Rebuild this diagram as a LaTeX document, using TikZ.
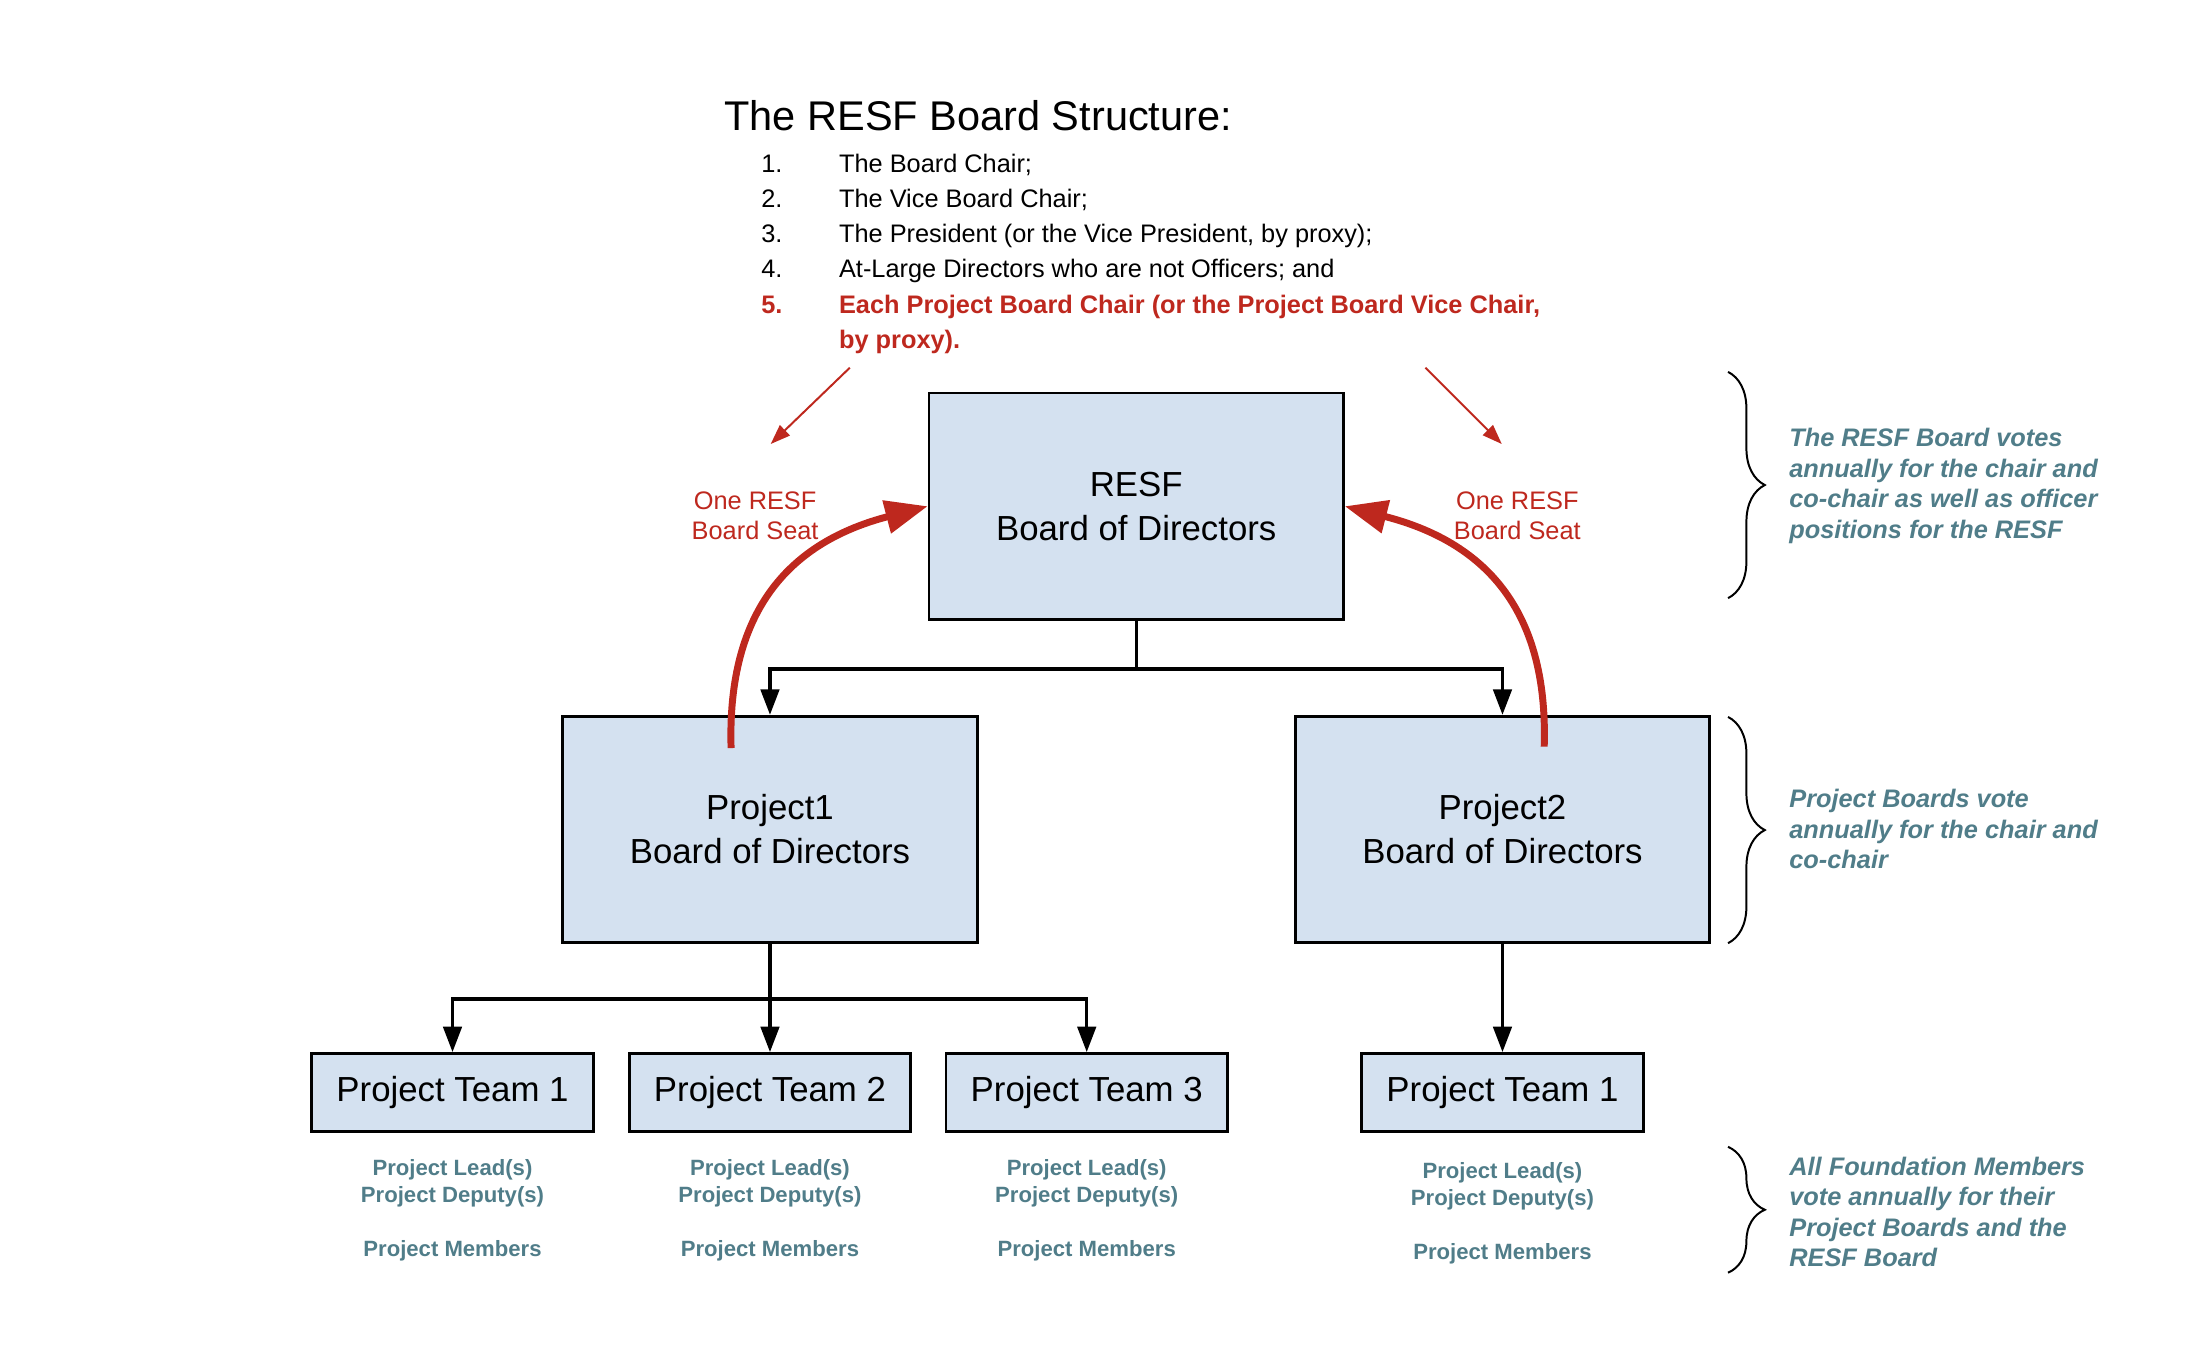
\documentclass[tikz,border=0pt]{standalone}
\usepackage{fontspec}
\setmainfont{Liberation Sans}
\usetikzlibrary{arrows.meta,decorations.pathreplacing}
\definecolor{boardfill}{RGB}{212,225,240}
\definecolor{seatred}{RGB}{190,40,30}
\definecolor{voteteal}{RGB}{80,125,137}

\begin{document}
\begin{tikzpicture}[x=0.2mm,y=-0.2mm,
    board/.style={draw,line width=1.1pt,fill=boardfill,minimum width=58.6mm,minimum height=32mm,align=center,inner sep=0pt,font=\fontsize{14}{17.6}\selectfont},
    team/.style={draw,line width=1.1pt,fill=boardfill,minimum width=39.8mm,minimum height=11mm,inner sep=0pt,font=\fontsize{14}{17}\selectfont},
    members/.style={text=voteteal,align=center,font=\fontsize{8.9}{10.8}\selectfont\bfseries},
    vote/.style={text=voteteal,align=left,anchor=west,inner sep=0pt,font=\fontsize{10.2}{12.3}\selectfont\bfseries\itshape},
    seat/.style={text=seatred,align=center,font=\fontsize{10.2}{12.2}\selectfont},
    listtext/.style={anchor=base west,inner sep=0pt,font=\fontsize{10.2}{12}\selectfont},
    tree/.style={line width=1.4pt,-{Triangle[length=3.6mm,width=2.6mm]}},
    redarc/.style={seatred,line width=2.8pt,-{Triangle[length=6mm,width=4.6mm]}},
    redline/.style={seatred,line width=0.8pt,-{Triangle[length=2.8mm,width=2mm]}},
    curly/.style={decorate,decoration={brace,amplitude=5.2mm},line width=0.8pt}]
  \useasboundingbox (0,0) rectangle (1560,963);

  \node[anchor=base west,inner sep=0pt,font=\fontsize{16.7}{20}\selectfont] (title) at (512,92) {The RESF Board Structure:};
  \foreach \n/\txt [count=\i from 0] in {1/The Board Chair;,2/The Vice Board Chair;,3/{The President (or the Vice President, by proxy);},4/At-Large Directors who are not Officers; and}
    {
      \node[listtext] (num\n) at (538,{122+24.8*\i}) {\n.};
      \node[listtext] (item\n) at (593,{122+24.8*\i}) {\txt};
    }
  \node[listtext,text=seatred,font=\fontsize{10.2}{12}\selectfont\bfseries] (num5) at (538,221.5) {5.};
  \node[listtext,text=seatred,font=\fontsize{10.2}{12}\selectfont\bfseries] (item5) at (593,221.5) {Each Project Board Chair (or the Project Board Vice Chair,};
  \node[listtext,text=seatred,font=\fontsize{10.2}{12}\selectfont\bfseries] (item5b) at (593,246.3) {by proxy).};

  \node[board] (resf) at (803.5,358) {RESF\\Board of Directors};
  \node[board] (p1) at (544.5,586.5) {Project1\\Board of Directors};
  \node[board] (p2) at (1062.5,586.5) {Project2\\Board of Directors};

  \node[team] (t1) at (320,772.5) {Project Team 1};
  \node[team] (t2) at (544.5,772.5) {Project Team 2};
  \node[team] (t3) at (768.5,772.5) {Project Team 3};
  \node[team] (t4) at (1062.5,772.5) {Project Team 1};

  \foreach \t/\x/\y in {t1/320/856,t2/544.5/856,t3/768.5/856,t4/1062.5/858}
    \node[members] (m\t) at (\x,\y) {Project Lead(s)\\Project Deputy(s)\\[10.8pt]Project Members};

  \draw[tree] (resf.south) -- ++(0,34) coordinate (fork) -| (p1.north);
  \draw[tree] (fork) -| (p2.north);
  \draw[tree] (p1.south) -- ++(0,39) coordinate (fork1) -| (t1.north);
  \draw[tree] (fork1) -| (t3.north);
  \draw[tree] (p1.south) -- (t2.north);
  \draw[tree] (p2.south) -- (t4.north);

  \node[seat] (seatL) at (534,364.5) {One RESF\\Board Seat};
  \node[seat] (seatR) at (1073,364.5) {One RESF\\Board Seat};
  \coordinate (fromL) at (601,260);
  \coordinate (toL) at (545,314);
  \coordinate (fromR) at (1008,260);
  \coordinate (toR) at (1062,314);
  \draw[redline] (fromL) -- (toL);
  \draw[redline] (fromR) -- (toR);

  \coordinate (startL) at (517,529);
  \coordinate (startR) at (1092,528);
  \draw[redarc] (startL) .. controls (514,430) and (560,383) .. (resf.west);
  \draw[redarc] (startR) .. controls (1095,430) and (1049,383) .. (resf.east);

  \draw[curly] (1222,263) -- (1222,423);
  \draw[curly] (1222,507) -- (1222,667);
  \draw[curly] (1222,811) -- (1222,900);

  \node[vote] (voteresf) at (1265,343.5) {The RESF Board votes\\annually for the chair and\\co-chair as well as officer\\positions for the RESF};
  \node[vote] (voteproj) at (1265,586.5) {Project Boards vote\\annually for the chair and\\co-chair};
  \node[vote] (voteall) at (1265,857) {All Foundation Members\\vote annually for their\\Project Boards and the\\RESF Board};
\end{tikzpicture}
\end{document}
